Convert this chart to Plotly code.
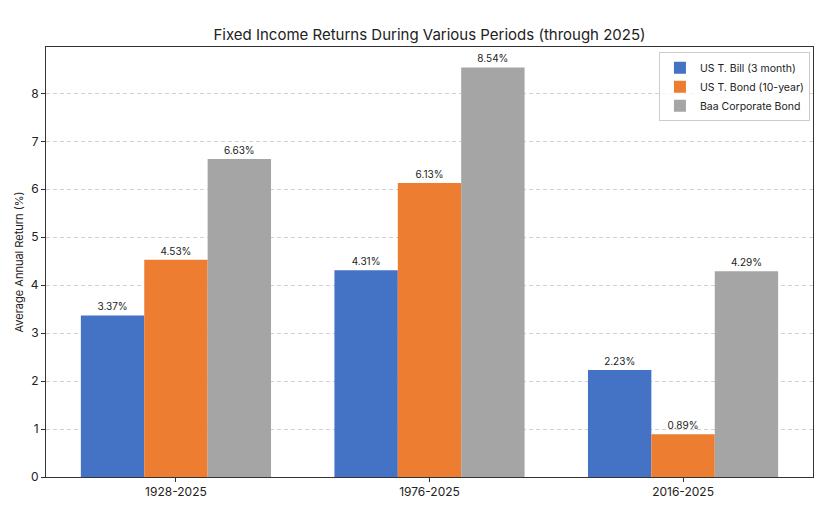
import plotly.graph_objects as go

periods = ["1928-2025", "1976-2025", "2016-2025"]
series_names = ["US T. Bill (3 month)", "US T. Bond (10-year)", "Baa Corporate Bond"]
tbill = [3.37, 4.31, 2.23]
tbond = [4.53, 6.13, 0.89]
baa = [6.63, 8.54, 4.29]
colors = ["#4472C4", "#ED7D31", "#A5A5A5"]

FONT = "Inter"
fig = go.Figure()
x_idx = list(range(len(periods)))
for name, vals, col in zip(series_names, [tbill, tbond, baa], colors):
    fig.add_trace(go.Bar(
        x=x_idx, y=vals, name=name, marker=dict(color=col, line=dict(width=0)),
        text=[f"{v:.2f}%" for v in vals], textposition="outside",
        textfont=dict(size=10, color="#222222", family=FONT),
        cliponaxis=False,
    ))

fig.update_layout(
    width=838, height=514,
    margin=dict(l=46, r=25, t=47, b=37),
    paper_bgcolor="white", plot_bgcolor="white",
    barmode="group", bargap=0.25, bargroupgap=0,
    font=dict(family=FONT, size=12, color="#222222"),
    title=dict(text="Fixed Income Returns During Various Periods (through 2025)",
               x=0.5, xref="paper", y=1 - 35 / 514, yref="container",
               xanchor="center", yanchor="middle",
               font=dict(size=15, family=FONT, color="#222222")),
    legend=dict(x=0.996, y=0.988, xanchor="right", yanchor="top",
                bordercolor="#CCCCCC", borderwidth=1, bgcolor="rgba(255,255,255,0.8)",
                font=dict(size=10.5, family=FONT), traceorder="normal",
                itemwidth=30),
    showlegend=True,
)
fig.update_xaxes(
    range=[-0.5125, 2.5125], tickvals=x_idx, ticktext=periods,
    showline=True, linecolor="#333333", linewidth=1, mirror=True,
    ticks="outside", ticklen=4, tickcolor="#333333", showgrid=False,
    tickfont=dict(size=12), zeroline=False, automargin=False,
)
fig.update_yaxes(
    range=[0, 8.967], dtick=1, tick0=0,
    showline=True, linecolor="#333333", linewidth=1, mirror=True,
    ticks="outside", ticklen=4, tickcolor="#333333",
    showgrid=True, gridcolor="rgba(180,180,180,0.6)", griddash="4px,3px", gridwidth=0.8,
    zeroline=False, tickfont=dict(size=12), automargin=False,
    title=dict(text="Average Annual Return (%)", font=dict(size=11), standoff=4),
)
fig.write_html("out.html", config={"displayModeBar": False},
               post_script="document.body.style.margin='0px';document.body.style.overflow='hidden';")
